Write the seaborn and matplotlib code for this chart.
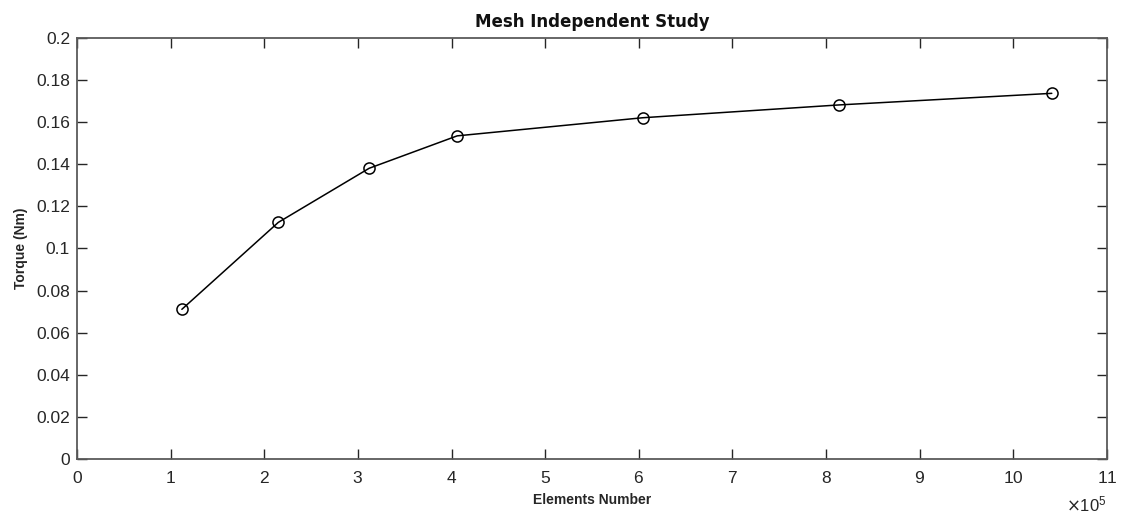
import matplotlib
matplotlib.use("Agg")
import matplotlib.pyplot as plt
import matplotlib.ticker as mticker
import numpy as np
import pandas as pd
import seaborn as sns

# Mesh refinement results
elements = [112000, 215000, 312000, 406000, 604000, 814000, 1041000]
torque = [0.0711, 0.1124, 0.1381, 0.1535, 0.1621, 0.1682, 0.1737]

x_ticks = np.arange(0, 12) * 1e5
y_ticks = np.round(np.arange(0, 0.21, 0.02), 2)

sns.set_style("white")
plt.rcParams["font.family"] = ["Liberation Sans", "DejaVu Sans"]

df = pd.DataFrame({"Elements Number": elements, "Torque (Nm)": torque})

fig = plt.figure(figsize=(11.24, 5.16), dpi=100)
ax = fig.add_axes([0.0685, 0.1105, 0.9164, 0.8159])

sns.lineplot(data=df, x="Elements Number", y="Torque (Nm)", ax=ax,
             color="black", linewidth=1.1, marker="o", markersize=8,
             markerfacecolor="none", markeredgecolor="black",
             markeredgewidth=1.1)

ax.set_xlim(0, 11e5)
ax.set_ylim(0, 0.2)
ax.set_xticks(x_ticks)
ax.set_yticks(y_ticks)

fmt = mticker.ScalarFormatter(useMathText=True)
fmt.set_powerlimits((5, 5))
ax.xaxis.set_major_formatter(fmt)
ax.yaxis.set_major_formatter(mticker.FormatStrFormatter("%g"))

spine_col = "#5a5a5a"
for s in ax.spines.values():
    s.set_color(spine_col)
    s.set_linewidth(1.3)
    s.set_visible(True)

ax.tick_params(direction="in", length=7, width=1.0, color="#262626",
               top=True, right=True, bottom=True, left=True,
               labelsize=12.5, labelcolor="#262626")
ax.tick_params(axis="x", pad=8)
ax.tick_params(axis="y", pad=5)
ax.xaxis.OFFSETTEXTPAD = 6
ax.xaxis.get_offset_text().set_fontsize(12)
ax.xaxis.get_offset_text().set_color("#262626")

ax.set_xlabel("Elements Number", fontsize=10, fontweight="bold",
              color="#262626", labelpad=5)
ax.set_ylabel("Torque (Nm)", fontsize=10, fontweight="bold",
              color="#262626", labelpad=6)
ax.set_title("Mesh Independent Study", fontsize=12, fontweight="bold",
             family=["DejaVu Sans"], color="#111111", pad=8)

fig.savefig("out.png", dpi=100)
